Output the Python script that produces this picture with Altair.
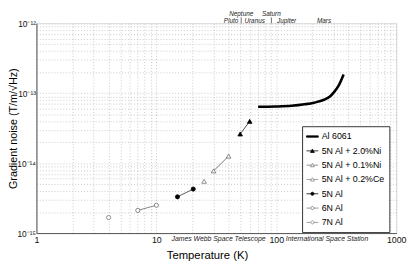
import altair as alt
import pandas as pd

# ---- data ----
series_names = ["Al 6061", "5N Al + 2.0%Ni", "5N Al + 0.1%Ni", "5N Al + 0.2%Ce",
                "5N Al", "6N Al", "7N Al"]

al6061_T = [70.5, 98, 134, 172, 207, 250, 280, 302, 331, 364]
al6061_G = [6.39e-14, 6.45e-14, 6.6e-14, 6.94e-14, 7.33e-14, 8.07e-14, 9.0e-14,
            1.03e-13, 1.28e-13, 1.85e-13]
ni20_T = [50, 60]
ni20_G = [2.61e-14, 3.96e-14]
ni01_T = [30, 40]
ni01_G = [7.74e-15, 1.26e-14]
ce02_T = [25]
ce02_G = [5.5e-15]
n5_T = [15, 20.3]
n5_G = [3.3e-15, 4.26e-15]
n6_T = [7, 10]
n6_G = [2.11e-15, 2.5e-15]
n7_T = [4]
n7_G = [1.67e-15]

planet_row1 = ["Neptune", "Saturn"]
planet_row1_T = [51, 91]
planet_row2 = ["Pluto", "Uranus", "Jupiter", "Mars"]
planet_row2_T = [42, 66, 122, 250]
tick_T = [51, 91]

mission_names = ["James Webb Space Telescope", "International Space Station"]
mission_T = [33, 265]

# ---- tables ----
def frame(name, T, G):
    return pd.DataFrame({"series": name, "T": T, "G": G})

df = pd.concat([
    frame("Al 6061", al6061_T, al6061_G),
    frame("5N Al + 2.0%Ni", ni20_T, ni20_G),
    frame("5N Al + 0.1%Ni", ni01_T, ni01_G),
    frame("5N Al + 0.2%Ce", ce02_T, ce02_G),
    frame("5N Al", n5_T, n5_G),
    frame("6N Al", n6_T, n6_G),
    frame("7N Al", n7_T, n7_G),
], ignore_index=True)

x_grid = [k * 10 ** e for e in range(0, 3) for k in range(1, 10)] + [1000]
y_grid = [k * 10.0 ** e for e in (-15, -14, -13) for k in range(1, 10)] + [1e-12]

FONT = "Liberation Sans"
GRID = "#bdbdbd"
W, H = 367, 214

xscale = alt.Scale(type="log", domain=[1, 1000], nice=False)
yscale = alt.Scale(type="log", domain=[1e-15, 1e-12], nice=False)

xaxis = alt.Axis(
    values=x_grid, grid=True, gridDash=[1, 2], gridColor=GRID, gridWidth=0.8,
    ticks=False, labelFlush=False, labelOverlap=False, labelPadding=3,
    labelExpr="indexof([1,10,100,1000], datum.value) >= 0 ? format(datum.value, 'd') : ''",
    labelFontSize=9, labelColor="#111", labelFont=FONT,
    title="Temperature (K)", titleFontSize=11.5, titleFontWeight="normal",
    titleFont=FONT, titleColor="#000", titleX=174, titleY=23, titleBaseline="middle",
    domainColor="#555",
)
yaxis = alt.Axis(
    values=y_grid, grid=True, gridDash=[1, 2], gridColor=GRID, gridWidth=0.8,
    ticks=False, labelFlush=False, labelOverlap=False, labelPadding=1,
    labelExpr=("abs(datum.value/1e-15-1) < 0.01 ? '10\u207b\u00b9\u2075' : "
               "abs(datum.value/1e-14-1) < 0.01 ? '10\u207b\u00b9\u2074' : "
               "abs(datum.value/1e-13-1) < 0.01 ? '10\u207b\u00b9\u00b3' : "
               "abs(datum.value/1e-12-1) < 0.01 ? '10\u207b\u00b9\u00b2' : ''"),
    labelFontSize=8.5, labelColor="#111", labelFont=FONT,
    title="Gradient noise (T/m/\u221aHz)", titleFontSize=11, titleFontWeight="normal",
    titleFont=FONT, titleColor="#000", titleX=-23, titleY=H / 2,
    titleBaseline="middle", titleAngle=270,
    domainColor="#555",
)

base = alt.Chart(df)
X = alt.X("T:Q", scale=xscale, axis=xaxis)
Y = alt.Y("G:Q", scale=yscale, axis=yaxis)

layers = []

# Al 6061 thick curve
layers.append(
    base.transform_filter(alt.datum.series == "Al 6061")
    .mark_line(color="black", strokeWidth=2.6, interpolate="monotone")
    .encode(x=X, y=Y)
)

styles = {
    "5N Al + 2.0%Ni": dict(shape="triangle-up", fill="black", stroke="black", line="#222"),
    "5N Al + 0.1%Ni": dict(shape="triangle-up", fill="white", stroke="#666", line="#555"),
    "5N Al + 0.2%Ce": dict(shape="triangle-up", fill="white", stroke="#777", line="#777"),
    "5N Al": dict(shape="circle", fill="black", stroke="black", line="#333"),
    "6N Al": dict(shape="circle", fill="white", stroke="#666", line="#666"),
    "7N Al": dict(shape="circle", fill="white", stroke="#777", line="#777"),
}
for name, st in styles.items():
    sub = base.transform_filter(alt.datum.series == name)
    layers.append(sub.mark_line(color=st["line"], strokeWidth=0.8).encode(x=X, y=Y))
for name, st in styles.items():
    sub = base.transform_filter(alt.datum.series == name)
    layers.append(
        sub.mark_point(shape=st["shape"], filled=True, fill=st["fill"], stroke=st["stroke"],
                       strokeWidth=0.8, size=18 if st["shape"] == "circle" else 22, opacity=1)
        .encode(x=X, y=Y)
    )

# legend carrier (draws no marks; builds the legend from explicit scales)
line_l = "M-1,0L-0.2,0M0.2,0L1,0"
tri = "M-0.33,0.27L0,-0.3L0.33,0.27Z"
circ = "M-0.27,0A0.27,0.27 0 1,0 0.27,0A0.27,0.27 0 1,0 -0.27,0Z"
line_c = "M-1,0L-0.27,0M0.27,0L1,0"
leg_shapes = [
    "M-1,-0.12L1,-0.12L1,0.12L-1,0.12Z",
    line_l + tri, line_l + tri, line_l + tri,
    line_c + circ, line_c + circ, line_c + circ,
]
leg_fill = ["black", "black", "white", "white", "black", "white", "white"]
leg_stroke = ["black", "black", "#777", "#888", "black", "#777", "#888"]
legend = alt.Legend(
    title=None, orient="none", legendX=271, legendY=105,
    symbolSize=144, symbolStrokeWidth=0.8, labelFontSize=9, labelFont=FONT,
    labelColor="#000", labelOffset=3, rowPadding=2.6, padding=4,
    strokeColor="#333", fillColor="white", symbolOpacity=1,
)
legend_df = pd.DataFrame({"series": series_names})
layers.append(
    alt.Chart(legend_df).transform_filter("false")
    .mark_point(opacity=1, filled=True)
    .encode(
        shape=alt.Shape("series:N", scale=alt.Scale(domain=series_names, range=leg_shapes), legend=legend),
        fill=alt.Fill("series:N", scale=alt.Scale(domain=series_names, range=leg_fill), legend=legend),
        stroke=alt.Stroke("series:N", scale=alt.Scale(domain=series_names, range=leg_stroke), legend=legend),
    )
)

# planet annotations on top
for names, temps, ypix in ((planet_row1, planet_row1_T, -9), (planet_row2, planet_row2_T, -2.5)):
    pl = pd.DataFrame({"name": names, "T": temps})
    layers.append(
        alt.Chart(pl).mark_text(fontSize=6.5, fontStyle="italic", font=FONT, color="#222", baseline="middle")
        .encode(x=alt.X("T:Q", scale=xscale), y=alt.value(ypix), text="name:N")
    )
tk = pd.DataFrame({"T": tick_T})
layers.append(
    alt.Chart(tk).mark_rule(color="#444", strokeWidth=0.8)
    .encode(x=alt.X("T:Q", scale=xscale), y=alt.value(-6), y2=alt.value(0))
)
ms = pd.DataFrame({"name": mission_names, "T": mission_T})
layers.append(
    alt.Chart(ms).mark_text(fontSize=7, fontStyle="italic", font=FONT, color="#222", baseline="middle")
    .encode(x=alt.X("T:Q", scale=xscale), y=alt.value(H + 6), text="name:N")
)

chart = (
    alt.layer(*layers)
    .properties(width=W, height=H,
                autosize=alt.AutoSizeParams(type="none"),
                padding={"left": 29, "top": 13, "right": 11, "bottom": 32})
    .configure_view(stroke="#555", strokeWidth=1)
    .configure(background="white")
)

chart.save("out.html", embed_options={"renderer": "svg", "actions": False})
